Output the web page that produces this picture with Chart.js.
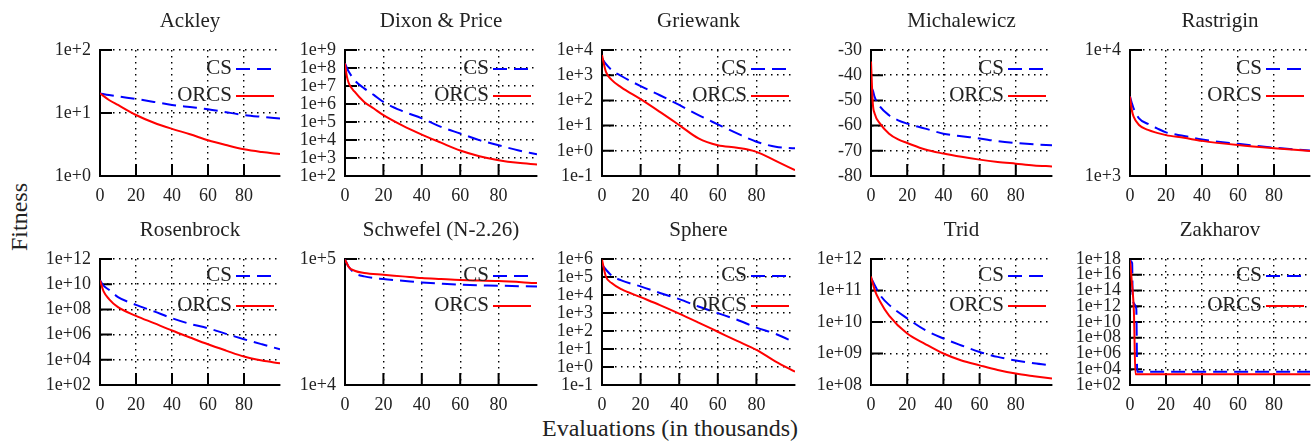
<!DOCTYPE html>
<html><head><meta charset="utf-8">
<script src="https://cdn.jsdelivr.net/npm/chart.js@4/dist/chart.umd.min.js"></script>
<style>
html,body{margin:0;padding:0;background:#fff;}
#wrap{position:relative;width:1315px;height:444px;overflow:hidden;background:#fff;}
canvas{position:absolute;}
.lab{position:absolute;font-family:"Liberation Serif","Times New Roman",serif;font-size:24px;color:#222;white-space:nowrap;}
#ylab{left:19px;top:217px;transform:translate(-50%,-50%) rotate(-90deg);}
#xlab{left:670px;top:428px;transform:translate(-50%,-50%);}
</style></head><body>
<div id="wrap">
<div class="lab" id="ylab">Fitness</div>
<div class="lab" id="xlab">Evaluations (in thousands)</div>
</div>
<script>
// ---------- data ----------
const seriesNames = ['CS', 'ORCS'];
const xTickLabels = ['0', '20', '40', '60', '80'];
const xMaxValue = 100;

const ackleyTitle = 'Ackley';
const ackleyX = [0, 5, 10, 20, 30, 40, 50, 60, 70, 80, 90, 100];
const ackleyCS = [20.5, 19.3, 18.3, 16.7, 15.0, 13.4, 12.4, 11.5, 10.3, 9.3, 8.7, 8.2];
const ackleyORCS = [20.5, 16.1, 13.4, 9.3, 7.0, 5.6, 4.6, 3.7, 3.1, 2.65, 2.4, 2.23];
const ackleyTicks = ['1e+0', '1e+1', '1e+2'];

const dixonTitle = 'Dixon & Price';
const dixonX = [0, 1, 2, 5, 10, 15, 20, 30, 40, 50, 60, 70, 80, 90, 100];
const dixonCS = [1.8e8, 1.0e8, 6.2e7, 2.1e7, 7.4e6, 3.2e6, 1.3e6, 4.0e5, 1.6e5, 5.4e4, 2.3e4, 9.8e3, 5.1e3, 2.7e3, 1.6e3];
const dixonORCS = [1.8e8, 3.3e7, 1.4e7, 4.8e6, 1.3e6, 5.6e5, 2.4e5, 6.3e4, 2.0e4, 7.1e3, 2.6e3, 1.26e3, 760, 540, 440];
const dixonTicks = ['1e+2', '1e+3', '1e+4', '1e+5', '1e+6', '1e+7', '1e+8', '1e+9'];

const griewankTitle = 'Griewank';
const griewankX = [0, 2, 5, 10, 20, 30, 40, 50, 60, 70, 80, 90, 100];
const griewankCS = [4700, 2800, 1600, 930, 370, 160, 66, 26, 11.2, 4.9, 2.3, 1.45, 1.26];
const griewankORCS = [6300, 1380, 650, 330, 112, 35, 10.5, 3.1, 1.66, 1.32, 0.91, 0.4, 0.17];
const griewankTicks = ['1e-1', '1e+0', '1e+1', '1e+2', '1e+3', '1e+4'];

const michalewiczTitle = 'Michalewicz';
const michalewiczX = [0, 1, 2, 5, 10, 15, 20, 30, 40, 50, 60, 70, 80, 90, 100];
const michalewiczCS = [-45, -46, -48.6, -52.5, -55.9, -57.9, -59.2, -61.2, -63.2, -64.2, -65.1, -66.2, -66.9, -67.4, -67.8];
const michalewiczORCS = [-34.6, -51.2, -55.2, -59.2, -63.2, -65.5, -66.9, -69.5, -71.1, -72.4, -73.5, -74.4, -75.1, -75.8, -76.2];
const michalewiczTicks = ['-80', '-70', '-60', '-50', '-40', '-30'];

const rastriginTitle = 'Rastrigin';
const rastriginX = [0, 1, 2, 5, 10, 15, 20, 30, 40, 60, 80, 100];
const rastriginCS = [4270, 3800, 3440, 2870, 2590, 2390, 2220, 2080, 1950, 1800, 1680, 1590];
const rastriginORCS = [4270, 3340, 2960, 2540, 2320, 2200, 2110, 2010, 1900, 1760, 1660, 1580];
const rastriginTicks = ['1e+3', '1e+4'];

const rosenbrockTitle = 'Rosenbrock';
const rosenbrockX = [0, 2, 5, 10, 20, 30, 40, 50, 60, 70, 80, 90, 100];
const rosenbrockCS = [2.0e10, 7.6e9, 3.6e9, 9.5e8, 2.3e8, 6.9e7, 2.0e7, 7.1e6, 3.2e6, 1.15e6, 4.3e5, 1.7e5, 6.9e4];
const rosenbrockORCS = [2.0e10, 2.7e9, 6.6e8, 1.5e8, 3.1e7, 8.1e6, 2.1e6, 5.9e5, 1.7e5, 5.4e4, 1.8e4, 8.7e3, 5.2e3];
const rosenbrockTicks = ['1e+02', '1e+04', '1e+06', '1e+08', '1e+10', '1e+12'];

const schwefelTitle = 'Schwefel (N-2.26)';
const schwefelX = [0, 2, 5, 10, 20, 30, 40, 50, 60, 80, 100];
const schwefelCS = [98900, 86300, 77400, 72800, 69300, 67300, 65200, 63700, 62500, 61400, 60500];
const schwefelORCS = [98900, 86300, 80700, 77400, 75000, 72800, 70600, 69300, 68100, 66800, 64400];
const schwefelTicks = ['1e+4', '1e+5'];

const sphereTitle = 'Sphere';
const sphereX = [0, 2, 5, 10, 20, 30, 40, 50, 60, 70, 80, 90, 100];
const sphereCS = [4.8e5, 2.6e5, 1.2e5, 6.5e4, 3.0e4, 1.3e4, 5.9e3, 2.3e3, 980, 420, 155, 69, 23];
const sphereORCS = [9.1e5, 1.07e5, 4.6e4, 2.1e4, 7.6e3, 2.75e3, 930, 295, 91, 28, 8.9, 2.0, 0.55];
const sphereTicks = ['1e-1', '1e+0', '1e+1', '1e+2', '1e+3', '1e+4', '1e+5', '1e+6'];

const tridTitle = 'Trid';
const tridX = [0, 2, 5, 10, 20, 30, 40, 50, 60, 70, 80, 90, 100];
const tridCS = [2.5e11, 1.5e11, 7.2e10, 3.5e10, 1.3e10, 5.5e9, 3.0e9, 1.8e9, 1.12e9, 7.8e8, 6.0e8, 4.9e8, 4.2e8];
const tridORCS = [2.8e11, 1.05e11, 4.5e10, 1.6e10, 4.3e9, 2.0e9, 1.0e9, 6.0e8, 4.2e8, 3.0e8, 2.3e8, 1.9e8, 1.6e8];
const tridTicks = ['1e+08', '1e+09', '1e+10', '1e+11', '1e+12'];

const zakharovTitle = 'Zakharov';
const zakharovXCS = [0, 1.2, 1.5, 3.5, 4, 100];
const zakharovCS = [6e17, 3e17, 6e12, 5e11, 4.7e3, 4.7e3];
const zakharovXORCS = [0, 1, 2.2, 3, 100];
const zakharovORCS = [7e17, 1.3e15, 1.2e11, 2.4e3, 2.4e3];
const zakharovTicks = ['1e+02', '1e+04', '1e+06', '1e+08', '1e+10', '1e+12', '1e+14', '1e+16', '1e+18'];

// ---------- layout ----------
const SERIF = '"Liberation Serif", "Times New Roman", serif';
const plotLeft = [100, 345, 602, 871, 1130];
const plotRight = [280, 537, 795, 1052, 1310];
const rowCanvasTop = [0, 210];
const rowCanvasH = [205, 215];
const rowPlotTop = [50, 259];
const rowPlotBottom = [176, 385];
const rowTitlePadTop = [11, 10];
const yAxisW = 66;

const panels = [
  {title: ackleyTitle, xc: ackleyX, xo: ackleyX, cs: ackleyCS, orcs: ackleyORCS, ticks: ackleyTicks, log: true},
  {title: dixonTitle, xc: dixonX, xo: dixonX, cs: dixonCS, orcs: dixonORCS, ticks: dixonTicks, log: true},
  {title: griewankTitle, xc: griewankX, xo: griewankX, cs: griewankCS, orcs: griewankORCS, ticks: griewankTicks, log: true},
  {title: michalewiczTitle, xc: michalewiczX, xo: michalewiczX, cs: michalewiczCS, orcs: michalewiczORCS, ticks: michalewiczTicks, log: false},
  {title: rastriginTitle, xc: rastriginX, xo: rastriginX, cs: rastriginCS, orcs: rastriginORCS, ticks: rastriginTicks, log: true},
  {title: rosenbrockTitle, xc: rosenbrockX, xo: rosenbrockX, cs: rosenbrockCS, orcs: rosenbrockORCS, ticks: rosenbrockTicks, log: true},
  {title: schwefelTitle, xc: schwefelX, xo: schwefelX, cs: schwefelCS, orcs: schwefelORCS, ticks: schwefelTicks, log: true},
  {title: sphereTitle, xc: sphereX, xo: sphereX, cs: sphereCS, orcs: sphereORCS, ticks: sphereTicks, log: true},
  {title: tridTitle, xc: tridX, xo: tridX, cs: tridCS, orcs: tridORCS, ticks: tridTicks, log: true},
  {title: zakharovTitle, xc: zakharovXCS, xo: zakharovXORCS, cs: zakharovCS, orcs: zakharovORCS, ticks: zakharovTicks, log: true}
];

// inward tick marks (gnuplot style)
const innerTicks = {
  id: 'innerTicks',
  beforeDatasetsDraw(chart) {
    const {ctx, chartArea: a, scales: {x, y}} = chart;
    ctx.save();
    ctx.strokeStyle = '#000';
    ctx.lineWidth = 2;
    ctx.beginPath();
    y.ticks.forEach(t => {
      const py = y.getPixelForValue(t.value);
      ctx.moveTo(a.left, py); ctx.lineTo(a.left + 12, py);
    });
    x.ticks.forEach(t => {
      if (t.value === x.min) return;
      const px = x.getPixelForValue(t.value);
      ctx.moveTo(px, a.bottom); ctx.lineTo(px, a.bottom - 12);
    });
    ctx.stroke();
    ctx.restore();
  }
};

// gnuplot-like key inside top-right
const keyPlugin = {
  id: 'keyPlugin',
  afterDatasetsDraw(chart, args, opts) {
    const {ctx, chartArea: a} = chart;
    chart.data.datasets.forEach((ds, i) => {
      const yy = a.top + opts.first + i * opts.step;
      ctx.save();
      ctx.font = '21px ' + SERIF;
      ctx.fillStyle = '#222';
      ctx.textAlign = 'right';
      ctx.textBaseline = 'middle';
      ctx.fillText(ds.label, a.right - 48, yy);
      ctx.strokeStyle = ds.borderColor;
      ctx.lineWidth = 2;
      ctx.setLineDash(ds.borderDash || []);
      ctx.beginPath();
      ctx.moveTo(a.right - 44, yy + 1);
      ctx.lineTo(a.right - 6, yy + 1);
      ctx.stroke();
      ctx.restore();
    });
  }
};

const wrap = document.getElementById('wrap');

panels.forEach((p, idx) => {
  const col = idx % 5, row = Math.floor(idx / 5);
  const cl = plotLeft[col] - yAxisW;
  const cr = Math.min(plotRight[col] + 4, 1315);
  const w = cr - cl;
  const ct = rowCanvasTop[row], ch = rowCanvasH[row];
  const canvas = document.createElement('canvas');
  canvas.width = w; canvas.height = ch;
  canvas.style.left = cl + 'px'; canvas.style.top = ct + 'px';
  canvas.style.width = w + 'px'; canvas.style.height = ch + 'px';
  wrap.appendChild(canvas);

  const yVals = p.ticks.map(Number);
  const padTop = rowTitlePadTop[row];
  const padBottom = (rowPlotTop[row] - ct) - padTop - 21;
  const xHeight = (ct + ch) - rowPlotBottom[row];

  const gridStyle = {color: '#000', lineWidth: 1.4, drawTicks: false};
  const borderStyle = {display: true, color: '#000', width: 2, dash: [1.5, 4.5]};
  const tickFont = {family: SERIF, size: 18, weight: 'normal'};

  new Chart(canvas, {
    type: 'line',
    data: {
      datasets: [
        {
          label: seriesNames[0],
          data: p.xc.map((v, i) => ({x: v, y: p.cs[i]})),
          borderColor: '#0000ff',
          borderWidth: 2,
          borderDash: [14, 7],
          pointRadius: 0,
          fill: false,
          cubicInterpolationMode: 'monotone',
          order: 1
        },
        {
          label: seriesNames[1],
          data: p.xo.map((v, i) => ({x: v, y: p.orcs[i]})),
          borderColor: '#ff0000',
          borderWidth: 2,
          pointRadius: 0,
          fill: false,
          cubicInterpolationMode: 'monotone',
          order: 0
        }
      ]
    },
    options: {
      responsive: false,
      animation: false,
      devicePixelRatio: 1,
      events: [],
      layout: {padding: {left: 0, right: cr - plotRight[col], top: 0, bottom: 0}},
      plugins: {
        legend: {display: false},
        tooltip: {enabled: false},
        title: {
          display: true, text: p.title, fullSize: false, color: '#222',
          font: {family: SERIF, size: 21, weight: 'normal', lineHeight: 1},
          padding: {top: padTop, bottom: padBottom}
        },
        keyPlugin: {first: row === 0 ? 18 : 16, step: row === 0 ? 27 : 30}
      },
      scales: {
        x: {
          type: 'linear', min: 0, max: xMaxValue,
          afterBuildTicks: s => { s.ticks = xTickLabels.map(l => ({value: Number(l)})); },
          afterFit: s => { s.height = xHeight; },
          ticks: {autoSkip: false, maxRotation: 0, padding: 9, color: '#222', font: tickFont,
                  callback: (v, i) => xTickLabels[i]},
          grid: gridStyle,
          border: borderStyle
        },
        y: {
          type: p.log ? 'logarithmic' : 'linear',
          min: yVals[0], max: yVals[yVals.length - 1],
          afterBuildTicks: s => { s.ticks = yVals.map(v => ({value: v})); },
          afterFit: s => { s.width = yAxisW; },
          ticks: {autoSkip: false, padding: 9, color: '#222', font: tickFont,
                  callback: (v, i) => p.ticks[i]},
          grid: gridStyle,
          border: borderStyle
        }
      }
    },
    plugins: [innerTicks, keyPlugin]
  });
});
</script>
</body></html>
